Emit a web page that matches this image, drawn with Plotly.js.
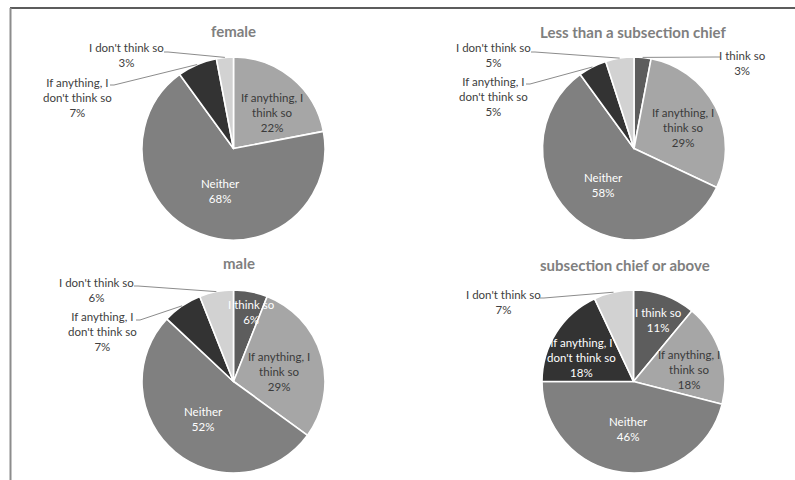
<!DOCTYPE html>
<html>
<head>
<meta charset="utf-8">
<script src="https://cdn.plot.ly/plotly-3.0.1.min.js"></script>
<style>
  html, body { margin: 0; padding: 0; background: #ffffff; }
  #chart { width: 795px; height: 480px; }
</style>
</head>
<body>
<div id="chart"></div>
<script>
// Answer categories, in clockwise order from 12 o'clock
const categories = ['I think so', 'If anything, I think so', 'Neither', "If anything, I don't think so", "I don't think so"];
// Category text as it is wrapped inside the data labels
const categoryLines = ['I think so', 'If anything, I<br>think so', 'Neither', "If anything, I<br>don't think so", "I don't think so"];

// Shares (%) per group
const femaleValues = [0, 22, 68, 7, 3];
const lessThanChiefValues = [3, 29, 58, 5, 5];
const maleValues = [6, 29, 52, 7, 6];
const chiefOrAboveValues = [11, 18, 46, 18, 7];

const panelTitles = ['female', 'Less than a subsection chief', 'male', 'subsection chief or above'];

// Slice fills and the text colour used on top of each fill
const sliceColors = ['#5d5d5d', '#a6a6a6', '#808080', '#333333', '#d2d2d2'];
const onSliceText = ['#ffffff', '#3a3a3a', '#ffffff', '#ffffff', '#3a3a3a'];

const W = 795, H = 480, R = 91.5;
const FONT = 'Lato, "Open Sans", sans-serif';

// Panel placement (pixels) and data-label placement per slice.
// inside labels: {x, y}; outside labels add the leader start point {ax, ay}.
const panels = [
  { title: panelTitles[0], values: femaleValues, cx: 233.5, cy: 148.5, tx: 233, ty: 31,
    labels: [null, { x: 272, y: 113 }, { x: 220, y: 190.5 },
             { x: 77, y: 97, ax: 110, ay: 85 }, { x: 126, y: 55, ax: 164, ay: 52 }] },
  { title: panelTitles[1], values: lessThanChiefValues, cx: 634, cy: 148.5, tx: 633, ty: 32,
    labels: [{ x: 742, y: 62.5, ax: 720, ay: 57 }, { x: 683, y: 127 }, { x: 603, y: 185 },
             { x: 493, y: 96.5, ax: 526, ay: 84 }, { x: 493, y: 55, ax: 531, ay: 52 }] },
  { title: panelTitles[2], values: maleValues, cx: 233.5, cy: 381.5, tx: 239, ty: 263,
    labels: [{ x: 251, y: 312 }, { x: 279, y: 371 }, { x: 203, y: 418.5 },
             { x: 102, y: 331.5, ax: 136, ay: 320 }, { x: 96, y: 290, ax: 134, ay: 286 }] },
  { title: panelTitles[3], values: chiefOrAboveValues, cx: 633.5, cy: 381.5, tx: 625, ty: 265,
    labels: [{ x: 658, y: 320 }, { x: 689, y: 369.5 }, { x: 628, y: 428.5 },
             { x: 581, y: 357 }, { x: 503, y: 301.5, ax: 540, ay: 298 }] }
];

const px = x => x / W;
const py = y => 1 - y / H;

const traces = [];
const annotations = [];
const shapes = [];

panels.forEach(p => {
  const idx = p.values.map((v, i) => i).filter(i => p.values[i] > 0);
  traces.push({
    type: 'pie',
    labels: idx.map(i => categories[i]),
    values: idx.map(i => p.values[i]),
    marker: { colors: idx.map(i => sliceColors[i]), line: { color: '#ffffff', width: 1.6 } },
    sort: false,
    direction: 'clockwise',
    rotation: 0,
    textinfo: 'none',
    hoverinfo: 'skip',
    showlegend: false,
    domain: { x: [px(p.cx - R), px(p.cx + R)], y: [py(p.cy + R), py(p.cy - R)] }
  });

  annotations.push({
    xref: 'paper', yref: 'paper', x: px(p.tx), y: py(p.ty),
    xanchor: 'center', yanchor: 'middle', showarrow: false,
    text: '<b>' + p.title + '</b>',
    font: { family: FONT, size: 15, color: '#7f7f7f' }
  });

  const total = p.values.reduce((a, b) => a + b, 0);
  let cum = 0;
  p.values.forEach((v, i) => {
    const start = cum;
    cum += v;
    const lab = p.labels[i];
    if (!lab || v <= 0) return;
    const outside = lab.ax !== undefined;
    annotations.push({
      xref: 'paper', yref: 'paper', x: px(lab.x), y: py(lab.y),
      xanchor: 'center', yanchor: 'middle', showarrow: false, align: 'center',
      text: categoryLines[i] + '<br>' + v + '%',
      font: { family: FONT, size: 11.5, color: outside ? '#404040' : onSliceText[i] }
    });
    if (outside) {
      // leader line: short horizontal run from the label, then to the slice rim at its mid-angle
      const mid = (start + v / 2) / total * 2 * Math.PI;
      const ex = p.cx + R * Math.sin(mid);
      const ey = p.cy - R * Math.cos(mid);
      const dir = ex > lab.ax ? 1 : -1;
      const kx = lab.ax + dir * 4;
      shapes.push({
        type: 'path', xref: 'paper', yref: 'paper',
        path: 'M' + px(lab.ax) + ',' + py(lab.ay) + ' L' + px(kx) + ',' + py(lab.ay) + ' L' + px(ex) + ',' + py(ey),
        line: { color: '#8c8c8c', width: 1 }
      });
    }
  });
});

// chart frame: top rule and left rule
shapes.push({ type: 'line', xref: 'paper', yref: 'paper', x0: px(10), x1: 1, y0: py(8), y1: py(8),
  line: { color: '#262626', width: 1.5 } });
shapes.push({ type: 'line', xref: 'paper', yref: 'paper', x0: px(10.5), x1: px(10.5), y0: py(8), y1: 0,
  line: { color: '#8c8c8c', width: 2 } });

const layout = {
  width: W, height: H,
  margin: { l: 0, r: 0, t: 0, b: 0 },
  paper_bgcolor: '#ffffff',
  showlegend: false,
  font: { family: FONT },
  annotations: annotations,
  shapes: shapes
};

Plotly.newPlot('chart', traces, layout, { staticPlot: true, displayModeBar: false });
</script>
</body>
</html>
